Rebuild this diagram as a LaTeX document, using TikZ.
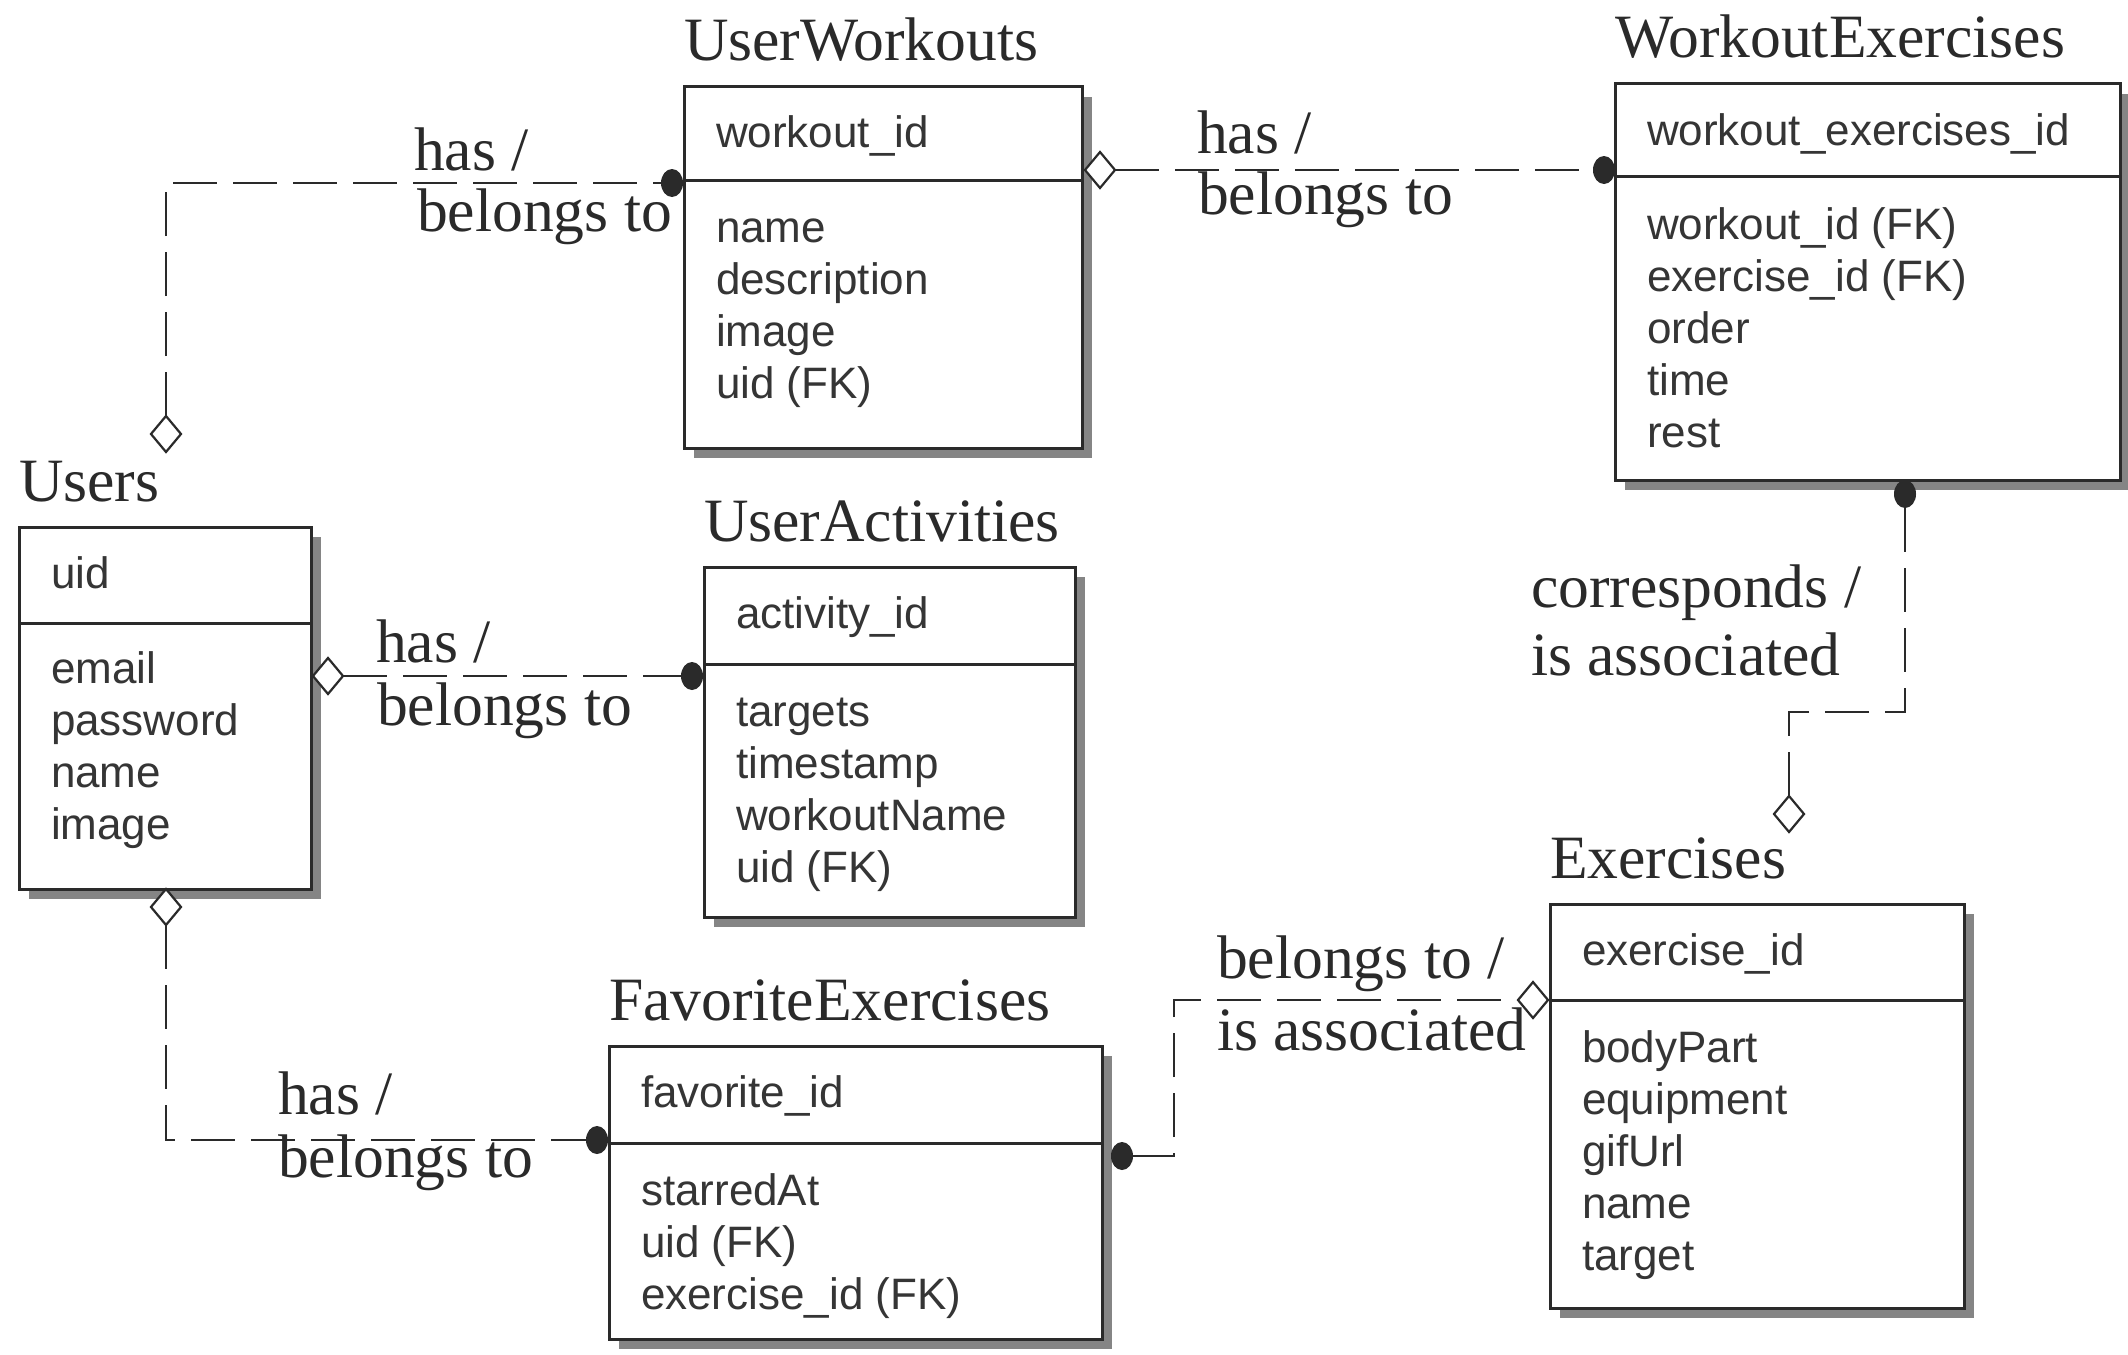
\documentclass[tikz,border=0pt]{standalone}
\usepackage{fontspec}
\setmainfont{Liberation Serif}
\newfontfamily\fieldfont{Liberation Sans}
\usetikzlibrary{shapes.geometric}

\definecolor{ink}{HTML}{2A2A2A}
\definecolor{fieldink}{HTML}{353535}
\definecolor{shadowgray}{HTML}{858585}

\tikzset{
  every node/.style={inner sep=0pt, outer sep=0pt},
  tabletitle/.style={anchor=base west, font=\fontsize{30.8}{34}\selectfont, text=ink},
  reltext/.style={anchor=base west, font=\fontsize{30.8}{34}\selectfont, text=ink},
  fieldtext/.style={anchor=base west, font=\fieldfont\fontsize{22}{26}\selectfont, text=fieldink},
  boxline/.style={draw=ink, line width=1.5pt},
  boxshadow/.style={fill=shadowgray},
  reldash/.style={draw=ink, line width=1.4pt, dash pattern=on 22pt off 8pt},
  solidtip/.style={ellipse, fill=ink, minimum width=11pt, minimum height=14pt},
  hollowtip/.style={diamond, draw=ink, fill=white, line width=1.1pt,
                    minimum width=15pt, minimum height=18pt},
}

% #1 id, #2 left, #3 top, #4 right, #5 bottom, #6 divider, #7 title, #8 key field
\newcommand\erbox[8]{%
  \fill[boxshadow] (#2+10,#3+10) rectangle (#4+10,#5+10);
  \draw[boxline, fill=white] (#2,#3) rectangle (#4,#5);
  \draw[boxline] (#2,#6) -- (#4,#6);
  \node[tabletitle] (#1-title) at (#2,#3-26) {#7};
  \node[fieldtext] (#1-key) at (#2+32,#3+61) {#8};
}
% #1 id, #2 x, #3 first baseline, #4 list of fields
\newcommand\erfields[4]{%
  \foreach \f [count=\i] in {#4}
    \node[fieldtext] (#1-f\i) at (#2,#3+52*\i-52) {\f};
}

\begin{document}
\begin{tikzpicture}[x=0.5pt,y=-0.5pt]
\useasboundingbox[fill=white] (0,0) rectangle (2128,1354);

% tables
\erbox{users}{19}{527}{311}{889}{623}{Users}{uid}
\erfields{users}{51}{683}{email,password,name,image}

\erbox{uw}{684}{87}{1082}{448}{180}{UserWorkouts}{workout\_id}
\erfields{uw}{716}{242}{name,description,image,uid (FK)}

\erbox{ua}{704}{567}{1075}{917}{664}{UserActivities}{activity\_id}
\erfields{ua}{736}{726}{targets,timestamp,workoutName,uid (FK)}

\erbox{we}{1615}{84}{2120}{480}{176}{WorkoutExercises}{workout\_exercises\_id}
\erfields{we}{1647}{239}{workout\_id (FK),exercise\_id (FK),order,time,rest}

\erbox{ex}{1550}{904}{1964}{1308}{1000}{Exercises}{exercise\_id}
\erfields{ex}{1582}{1062}{bodyPart,equipment,gifUrl,name,target}

\erbox{fe}{609}{1046}{1102}{1339}{1143}{FavoriteExercises}{favorite\_id}
\erfields{fe}{641}{1205}{starredAt,uid (FK),exercise\_id (FK)}

% Users -- UserWorkouts
\node[hollowtip] (d1) at (166,434) {};
\node[solidtip] (p1) at (672,183) {};
\draw[reldash] (d1.north) |- (p1.west);
\node[reltext] (r1a) at (414,170) {has /};
\node[reltext] (r1b) at (417,231) {belongs to};

% UserWorkouts -- WorkoutExercises
\node[hollowtip] (d2) at (1100,170) {};
\node[solidtip] (p2) at (1604,170) {};
\draw[reldash] (d2.east) -- (p2.west);
\node[reltext] (r2a) at (1197,153) {has /};
\node[reltext] (r2b) at (1198,214) {belongs to};

% Users -- UserActivities
\node[hollowtip] (d3) at (328,676) {};
\node[solidtip] (p3) at (692,676) {};
\draw[reldash] (d3.east) -- (p3.west);
\node[reltext] (r3a) at (376,662) {has /};
\node[reltext] (r3b) at (377,725) {belongs to};

% WorkoutExercises -- Exercises
\node[solidtip] (p4) at (1905,494) {};
\coordinate (k4) at (1905,712);
\node[hollowtip] (d4) at (1789,814) {};
\draw[reldash] (p4.south) -- (k4) -| (d4.north);
\node[reltext] (r4a) at (1531,607) {corresponds /};
\node[reltext] (r4b) at (1531,675) {is associated};

% Users -- FavoriteExercises
\node[hollowtip] (d5) at (166,907) {};
\node[solidtip] (p5) at (597,1140) {};
\draw[reldash] (d5.south) |- (p5.west);
\node[reltext] (r5a) at (278,1114) {has /};
\node[reltext] (r5b) at (278,1177) {belongs to};

% FavoriteExercises -- Exercises
\node[solidtip] (p6) at (1122,1156) {};
\coordinate (k6) at (1174,1156);
\node[hollowtip] (d6) at (1533,1000) {};
\draw[reldash] (p6.east) -- (k6) |- (d6.west);
\node[reltext] (r6a) at (1217,978) {belongs to /};
\node[reltext] (r6b) at (1217,1050) {is associated};
\end{tikzpicture}
\end{document}
